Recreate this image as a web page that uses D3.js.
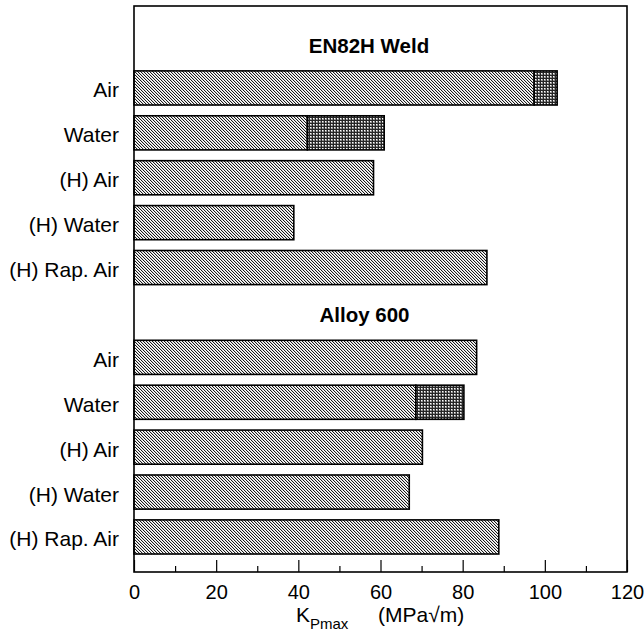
<!DOCTYPE html>
<html>
<head>
<meta charset="utf-8">
<script src="https://cdn.jsdelivr.net/npm/d3@7"></script>
<style>
  html, body { margin: 0; padding: 0; background: #fff; }
  svg { display: block; }
  text { font-family: "Liberation Sans", Arial, Helvetica, sans-serif; fill: #000; }
</style>
</head>
<body>
<svg id="chart" width="644" height="640"></svg>
<script>
// Material groups and test conditions
const groups = ["EN82H Weld", "Alloy 600"];
const conditions = ["Air", "Water", "(H) Air", "(H) Water", "(H) Rap. Air"];

// K_Pmax (MPa√m): lower value of each bar and, where present, the upper range
const weldLower = [97.4, 42.2, 58.3, 38.9, 85.9];
const weldUpper = [103.0, 60.9, null, null, null];
const alloyLower = [83.4, 68.6, 70.2, 67.0, 88.8];
const alloyUpper = [null, 80.3, null, null, null];

const majorTicks = [0, 20, 40, 60, 80, 100, 120];
const minorTicks = [10, 30, 50, 70, 90, 110];

const svg = d3.select("#chart");

// Fill patterns (pixel tiles)
const defs = svg.append("defs");
function tile(id, bg, pixels) {
  const p = defs.append("pattern")
    .attr("id", id).attr("patternUnits", "userSpaceOnUse")
    .attr("width", 3).attr("height", 3);
  p.append("rect").attr("width", 3).attr("height", 3).attr("fill", bg)
    .attr("shape-rendering", "crispEdges");
  pixels.forEach(([px, py, c]) => p.append("rect")
    .attr("x", px).attr("y", py).attr("width", 1).attr("height", 1)
    .attr("fill", c).attr("shape-rendering", "crispEdges"));
}
// diagonal "\" hatching
tile("hatch", "#fff", [
  [0, 0, "#1a1a1a"], [1, 1, "#1a1a1a"], [2, 2, "#1a1a1a"],
  [1, 0, "#d4d4d4"], [2, 1, "#d4d4d4"], [0, 2, "#d4d4d4"]
]);
// dense dotted grid
tile("grid", "#262626", [
  [1, 1, "#fff"], [2, 1, "#9a9a9a"], [1, 2, "#9a9a9a"], [2, 2, "#8a8a8a"]
]);

// Plot frame
const frame = { left: 134, right: 627, top: 6, bottom: 572 };

const x = d3.scaleLinear().domain([0, 120]).range([frame.left, frame.right]);

// One row per group heading plus one row per bar
const rows = [];
const series = [
  { lower: weldLower, upper: weldUpper },
  { lower: alloyLower, upper: alloyUpper }
];
groups.forEach((g, gi) => {
  rows.push({ key: "head" + gi, head: g });
  conditions.forEach((c, ci) => rows.push({
    key: g + "|" + c, label: c,
    lower: series[gi].lower[ci], upper: series[gi].upper[ci]
  }));
});

const y = d3.scaleBand()
  .domain(rows.map(r => r.key))
  .range([20.6, 559.4])
  .paddingInner(0.24)
  .paddingOuter(0.12);

const bars = rows.filter(r => r.head === undefined);
const heads = rows.filter(r => r.head !== undefined);

// Bars: hatched part to the lower value
svg.append("g").selectAll("rect")
  .data(bars).join("rect")
  .attr("x", x(0))
  .attr("y", d => y(d.key))
  .attr("width", d => x(d.lower) - x(0))
  .attr("height", y.bandwidth())
  .attr("fill", "url(#hatch)")
  .attr("stroke", "#000").attr("stroke-width", 1.6);

// Upper range segments
svg.append("g").selectAll("rect")
  .data(bars.filter(d => d.upper != null)).join("rect")
  .attr("x", d => x(d.lower))
  .attr("y", d => y(d.key))
  .attr("width", d => x(d.upper) - x(d.lower))
  .attr("height", y.bandwidth())
  .attr("fill", "url(#grid)")
  .attr("stroke", "#000").attr("stroke-width", 1.6);

// Frame
svg.append("rect")
  .attr("x", frame.left).attr("y", frame.top)
  .attr("width", frame.right - frame.left).attr("height", frame.bottom - frame.top)
  .attr("fill", "none").attr("stroke", "#000").attr("stroke-width", 1.6);

// Bottom axis with inward ticks
const axisMajor = svg.append("g")
  .attr("transform", `translate(0,${frame.bottom})`)
  .call(d3.axisBottom(x).tickValues(majorTicks).tickSize(-12).tickPadding(13)
    .tickFormat(d3.format("d")));
const axisMinor = svg.append("g")
  .attr("transform", `translate(0,${frame.bottom})`)
  .call(d3.axisBottom(x).tickValues(minorTicks).tickSize(-6).tickFormat(""));
[axisMajor, axisMinor].forEach(a => {
  a.select(".domain").remove();
  a.selectAll(".tick line").attr("stroke", "#000").attr("stroke-width", 1.2);
});
axisMajor.selectAll(".tick text")
  .attr("font-size", 20)
  .attr("font-family", "'Liberation Sans', Arial, sans-serif")
  .attr("fill", "#000");

// Category labels
svg.append("g").selectAll("text")
  .data(bars).join("text")
  .attr("x", frame.left - 15)
  .attr("y", d => y(d.key) + y.bandwidth() / 2 + 9.5)
  .attr("text-anchor", "end")
  .attr("font-size", 21)
  .text(d => d.label);

// Group headings
const headX = [369, 364.5];
svg.append("g").selectAll("text")
  .data(heads).join("text")
  .attr("x", (d, i) => headX[i])
  .attr("y", d => y(d.key) + y.bandwidth() / 2 + 10)
  .attr("text-anchor", "middle")
  .attr("font-size", 20.5)
  .attr("font-weight", "bold")
  .text(d => d.head);

// X axis title
const xt = svg.append("text")
  .attr("x", 296).attr("y", 622)
  .attr("font-size", 21);
xt.append("tspan").text("K");
xt.append("tspan").attr("font-size", 15).attr("dy", 7).text("Pmax");
xt.append("tspan").attr("x", 378).attr("dy", -7).text("(MPa√m)");
</script>
</body>
</html>
